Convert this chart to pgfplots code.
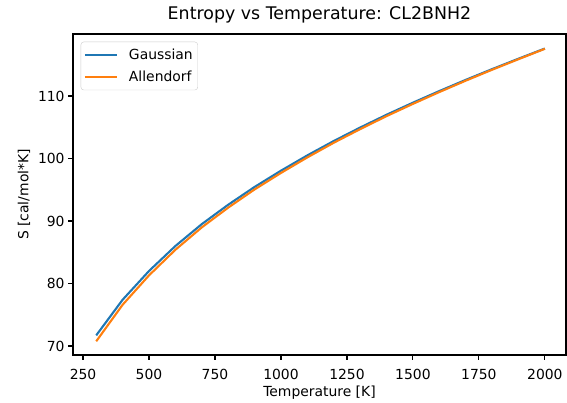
\documentclass[border=0pt]{standalone}
\usepackage{fontspec}
\setmainfont{DejaVu Sans}
\usepackage{pgfplots}
\pgfplotsset{compat=1.18}
\usepackage{pgfplotstable}
\definecolor{mplblue}{HTML}{1F77B4}
\definecolor{mplorange}{HTML}{FF7F0E}
\pgfplotstableread{
T S
300 71.70
400 77.40
500 82.00
600 86.00
700 89.50
800 92.60
900 95.45
1000 98.05
1100 100.50
1200 102.80
1300 104.95
1400 107.00
1500 108.93
1600 110.79
1700 112.58
1800 114.30
1900 115.97
2000 117.60
}\gaussian
\pgfplotstableread{
T S
300 70.75
400 76.60
500 81.30
600 85.40
700 88.98
800 92.14
900 95.05
1000 97.69
1100 100.18
1200 102.52
1300 104.70
1400 106.78
1500 108.74
1600 110.63
1700 112.45
1800 114.20
1900 115.89
2000 117.55
}\allendorf
\begin{document}
\begin{tikzpicture}
\path[use as bounding box] (-73pt,-47pt) rectangle (494pt,355pt);
\begin{axis}[
  at={(0,0)}, anchor=south west,
  width=493pt, height=321pt, scale only axis,
  xmin=212, xmax=2080, ymin=68.56, ymax=119.92,
  xtick={250,500,750,1000,1250,1500,1750,2000},
  ytick={70,80,90,100,110},
  axis line style={line width=1.1pt},
  tick style={line width=1.1pt, black},
  tick align=outside, major tick length=4.9pt,
  xtick pos=bottom, ytick pos=left,
  /pgf/number format/assume math mode=true,
  /pgf/number format/set thousands separator={},
  tick label style={font=\fontsize{13.9}{16}\selectfont},
  xticklabel style={anchor=base, yshift=-20pt},
  yticklabel style={anchor=east},
  title={Entropy vs Temperature: CL2BNH2},
  title style={font=\fontsize{17.4}{20}\selectfont, at={(axis description cs:0.5,1)}, anchor=base, yshift=8.5pt},
  xlabel={Temperature [K]},
  ylabel={S [cal/mol*K]},
  every axis x label/.style={at={(axis description cs:0.5,0)}, anchor=base, yshift=-41.5pt, font=\fontsize{13.9}{16}\selectfont},
  every axis y label/.style={at={(axis description cs:0,0.5)}, xshift=-49pt, rotate=90, anchor=center, font=\fontsize{13.9}{16}\selectfont},
  legend style={at={(0.0156,0.976)}, anchor=north west,
    font=\fontsize{13.9}{16}\selectfont,
    draw=black!20, rounded corners=3pt, fill=white, fill opacity=0.8, text opacity=1,
    inner xsep=3pt, inner ysep=5pt, row sep=6pt},
  legend cell align=left,
  legend image code/.code={\draw[#1] (0pt,0pt) -- (32pt,0pt); \path (0pt,0pt) (41pt,0pt);},
]
\addplot[mplblue, line width=2.1pt, line join=round] table[x=T,y=S] {\gaussian};
\addlegendentry{Gaussian}
\addplot[mplorange, line width=2.1pt, line join=round] table[x=T,y=S] {\allendorf};
\addlegendentry{Allendorf}
\end{axis}
\end{tikzpicture}
\end{document}
